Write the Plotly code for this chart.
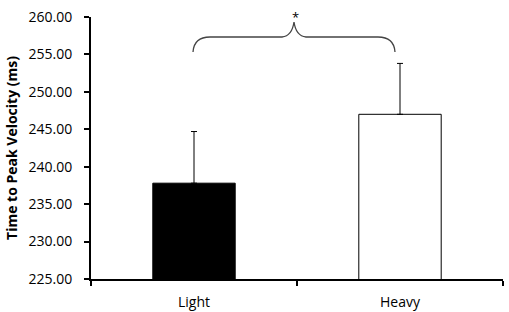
import plotly.graph_objects as go

categories = ["Light", "Heavy"]
means = [237.8, 247.0]
sd_plus = [6.9, 6.8]
bar_colors = ["black", "white"]
y_ticks = [225, 230, 235, 240, 245, 250, 255, 260]

fig = go.Figure()
fig.add_trace(go.Bar(
    x=categories, y=means, width=0.4,
    marker=dict(color=bar_colors, line=dict(color="black", width=1)),
    error_y=dict(type="data", symmetric=False, array=sd_plus, arrayminus=[0, 0],
                 color="black", thickness=1, width=3),
))

# brace in pixel-derived paper coordinates (plot area: x 91..503, y 17..279)
def px(x):
    return (x - 91) / 412.0
def py(y):
    return (279 - y) / 262.0

path = (f"M {px(193)},{py(52)} "
        f"Q {px(194)},{py(37)} {px(210)},{py(37)} "
        f"L {px(282)},{py(37)} "
        f"Q {px(292)},{py(36)} {px(294)},{py(22)} "
        f"Q {px(296)},{py(36)} {px(306)},{py(37)} "
        f"L {px(378)},{py(37)} "
        f"Q {px(394)},{py(37)} {px(395)},{py(52)}")
fig.add_shape(type="path", path=path, xref="paper", yref="paper",
              line=dict(color="#444444", width=1.3))
fig.add_annotation(text="*", x=px(295), y=py(6), xref="paper", yref="paper",
                   showarrow=False, font=dict(size=13, color="black", family="Open Sans"))

fig.update_layout(
    width=509, height=312,
    margin=dict(l=91, r=6, t=17, b=33),
    paper_bgcolor="white", plot_bgcolor="white",
    showlegend=False,
    font=dict(family="Open Sans", size=14, color="black"),
    bargap=0.6,
)
fig.update_xaxes(
    type="category", showline=True, linecolor="black", linewidth=2,
    ticks="outside", tickson="boundaries", ticklen=5, tickwidth=2, tickcolor="black",
    showgrid=False, tickfont=dict(size=14), ticklabelstandoff=9, automargin=False,
)
fig.update_yaxes(
    range=[225, 260], tickvals=y_ticks, tickformat=".2f",
    showline=True, linecolor="black", linewidth=2,
    ticks="outside", ticklen=5, tickwidth=2, tickcolor="black",
    showgrid=False, zeroline=False, tickfont=dict(size=14), ticklabelstandoff=9,
    automargin=False,
    title=dict(text="<b>Time to Peak Velocity (ms)</b>", font=dict(size=14), standoff=8),
)
fig.write_html("out.html")
